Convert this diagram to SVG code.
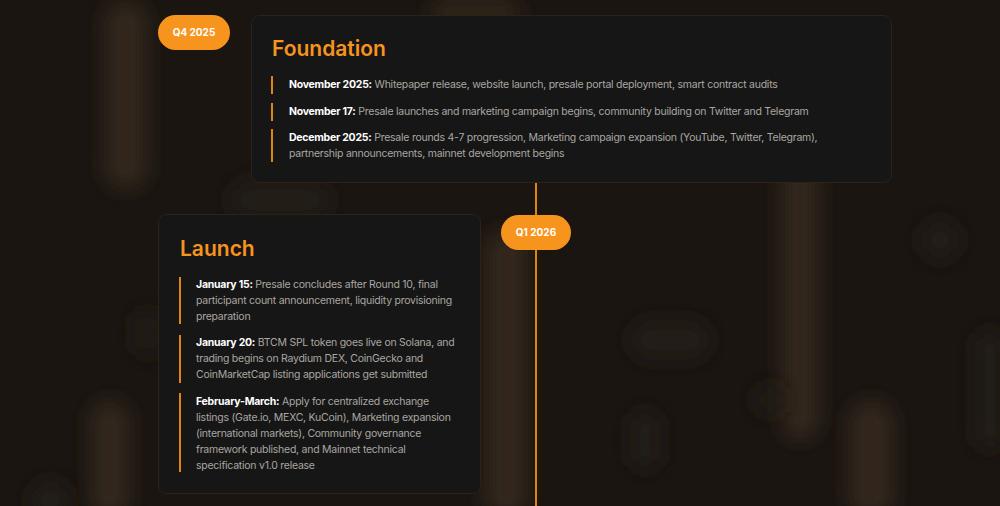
<svg xmlns="http://www.w3.org/2000/svg" width="1000" height="506" viewBox="0 0 1000 506">
  <defs>
    <filter id="blur" x="-100%" y="-100%" width="300%" height="300%">
      <feGaussianBlur stdDeviation="10"/>
    </filter>
    <style>
      .card { fill: #161616; stroke: #2c2219; stroke-width: 1; }
      .pill { fill: #f7941d; }
      .pilltxt { font-family: Inter, "Noto Sans", sans-serif; font-size: 10px; font-weight: 700; fill: #ffffff; text-anchor: middle; }
      .title { font-family: Inter, "Noto Sans", sans-serif; font-size: 21px; font-weight: 600; fill: #f7941d; }
      .bar { fill: #e08514; }
      .item { font-family: Inter, "Noto Sans", sans-serif; font-size: 10.5px; letter-spacing: -0.25px; fill: #aaa6a1; }
      .item tspan.b { font-weight: 700; fill: #ffffff; }
      .glow { fill: #33261a; filter: url(#blur); }
      .glow2 { fill: #241a12; filter: url(#blur); }
    </style>
  </defs>

  <rect width="1000" height="506" fill="#1a1511"/>

  <g id="background">
    <rect class="glow" x="104" y="0" width="44" height="190" rx="22"/>
    <rect class="glow" x="90" y="400" width="40" height="120" rx="20"/>
    <rect class="glow2" x="30" y="480" width="40" height="40" rx="20"/>
    <rect class="glow2" x="135" y="310" width="24" height="46" rx="12"/>
    <rect class="glow" x="484" y="230" width="44" height="290" rx="22"/>
    <rect class="glow2" x="230" y="180" width="100" height="40" rx="20"/>
    <rect class="glow" x="430" y="0" width="90" height="24" rx="12"/>
    <rect class="glow" x="780" y="160" width="40" height="280" rx="20"/>
    <rect class="glow2" x="755" y="385" width="30" height="30" rx="15"/>
    <rect class="glow2" x="630" y="320" width="80" height="40" rx="20"/>
    <rect class="glow2" x="630" y="410" width="30" height="60" rx="15"/>
    <rect class="glow" x="848" y="400" width="46" height="120" rx="23"/>
    <rect class="glow2" x="920" y="220" width="40" height="40" rx="20"/>
    <rect class="glow2" x="975" y="330" width="30" height="120" rx="15"/>
  </g>

  <g id="connectors">
    <rect x="535" y="160" width="2" height="346" fill="#e08514"/>
  </g>

  <g id="q4-2025">
    <rect class="pill" x="158" y="15" width="72" height="35" rx="17.5"/>
    <text class="pilltxt" x="194" y="36">Q4 2025</text>
  </g>

  <g id="foundation">
    <rect class="card" x="251.5" y="15.5" width="640" height="167" rx="8"/>
    <text class="title" x="272" y="56">Foundation</text>
    <rect class="bar" x="271" y="76" width="2" height="18"/>
    <text class="item" x="289" y="88"><tspan class="b">November 2025:</tspan> Whitepaper release, website launch, presale portal deployment, smart contract audits</text>
    <rect class="bar" x="271" y="103" width="2" height="18"/>
    <text class="item" x="289" y="115"><tspan class="b">November 17:</tspan> Presale launches and marketing campaign begins, community building on Twitter and Telegram</text>
    <rect class="bar" x="271" y="129" width="2" height="33"/>
    <text class="item" x="289" y="141"><tspan class="b">December 2025:</tspan> Presale rounds 4-7 progression, Marketing campaign expansion (YouTube, Twitter, Telegram),</text>
    <text class="item" x="289" y="157">partnership announcements, mainnet development begins</text>
  </g>

  <g id="q1-2026">
    <rect class="pill" x="501" y="215" width="70" height="35" rx="17.5"/>
    <text class="pilltxt" x="536" y="236">Q1 2026</text>
  </g>

  <g id="launch">
    <rect class="card" x="158.5" y="214.5" width="322" height="279" rx="8"/>
    <text class="title" x="180" y="256">Launch</text>
    <rect class="bar" x="179" y="277" width="2" height="47"/>
    <text class="item" x="196" y="288"><tspan class="b">January 15:</tspan> Presale concludes after Round 10, final</text>
    <text class="item" x="196" y="304">participant count announcement, liquidity provisioning</text>
    <text class="item" x="196" y="320">preparation</text>
    <rect class="bar" x="179" y="335" width="2" height="48"/>
    <text class="item" x="196" y="346"><tspan class="b">January 20:</tspan> BTCM SPL token goes live on Solana, and</text>
    <text class="item" x="196" y="362">trading begins on Raydium DEX, CoinGecko and</text>
    <text class="item" x="196" y="378">CoinMarketCap listing applications get submitted</text>
    <rect class="bar" x="179" y="393" width="2" height="79"/>
    <text class="item" x="196" y="405"><tspan class="b">February-March:</tspan> Apply for centralized exchange</text>
    <text class="item" x="196" y="421">listings (Gate.io, MEXC, KuCoin), Marketing expansion</text>
    <text class="item" x="196" y="437">(international markets), Community governance</text>
    <text class="item" x="196" y="453">framework published, and Mainnet technical</text>
    <text class="item" x="196" y="469">specification v1.0 release</text>
  </g>
</svg>
